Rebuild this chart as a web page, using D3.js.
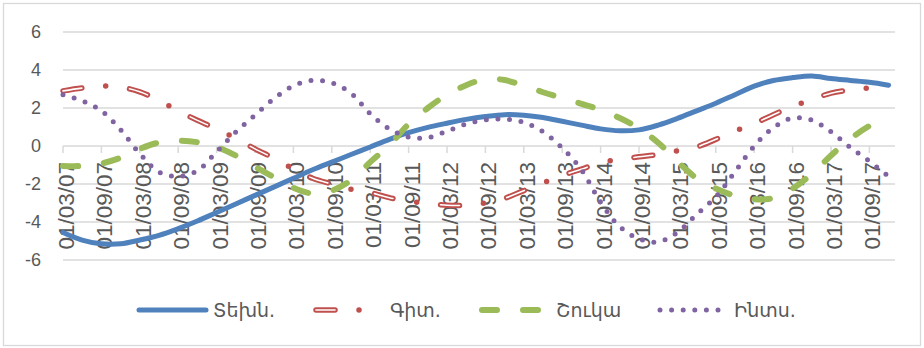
<!DOCTYPE html>
<html>
<head>
<meta charset="utf-8">
<script src="https://cdn.jsdelivr.net/npm/d3@7"></script>
<style>
  body { margin: 0; background: #fff; }
  svg text { font-family: "Liberation Sans", Arial, sans-serif; fill: #595959; }
  svg text.legend-label { font-family: "DejaVu Sans", sans-serif; }
</style>
</head>
<body>
<svg id="chart" width="924" height="348"></svg>
<script>
// Quarterly observations
const quarters = [
  "2007-03","2007-06","2007-09","2007-12","2008-03","2008-06","2008-09","2008-12",
  "2009-03","2009-06","2009-09","2009-12","2010-03","2010-06","2010-09","2010-12",
  "2011-03","2011-06","2011-09","2011-12","2012-03","2012-06","2012-09","2012-12",
  "2013-03","2013-06","2013-09","2013-12","2014-03","2014-06","2014-09","2014-12",
  "2015-03","2015-06","2015-09","2015-12","2016-03","2016-06","2016-09","2016-12",
  "2017-03","2017-06","2017-09","2017-12"
];
const axisStart = "2007-03";
const axisEnd = "2018-01";

const tekhn = [
  -4.55, -4.95, -5.15, -5.15, -4.95, -4.7, -4.35, -3.95, -3.5, -3.05,
  -2.6, -2.15, -1.7, -1.25, -0.85, -0.45, -0.05, 0.35, 0.7, 0.98,
  1.2, 1.4, 1.55, 1.65, 1.62, 1.5, 1.3, 1.1, 0.9, 0.8,
  0.85, 1.1, 1.45, 1.85, 2.25, 2.7, 3.15, 3.45, 3.6, 3.68,
  3.55, 3.45, 3.35, 3.2
];
const git = [
  2.9, 3.05, 3.15, 3.1, 2.85, 2.4, 1.85, 1.35, 0.9, 0.4,
  -0.15, -0.65, -1.2, -1.7, -2.0, -2.28, -2.45, -2.72, -2.9, -3.02,
  -3.12, -3.12, -3.0, -2.75, -2.35, -1.95, -1.55, -1.22, -0.88, -0.7,
  -0.57, -0.45, -0.25, -0.05, 0.35, 0.78, 1.18, 1.65, 2.08, 2.45,
  2.78, 2.95, 3.05, 3.14
];
const shuka = [
  -1.05, -1.05, -0.92, -0.62, -0.15, 0.18, 0.28, 0.2, -0.05, -0.5,
  -1.1, -1.65, -2.2, -2.5, -2.35, -1.8, -0.85, 0.05, 1.15, 2.0,
  2.7, 3.2, 3.52, 3.47, 3.17, 2.83, 2.52, 2.22, 1.9, 1.47,
  0.93, 0.17, -0.8, -1.7, -2.24, -2.62, -2.8, -2.74, -2.24, -1.47,
  -0.5, 0.37, 1.06, 1.57
];
const ints = [
  2.7, 2.38, 1.85, 0.85, -0.4, -1.37, -1.6, -1.3, -0.3, 0.73,
  1.63, 2.5, 3.17, 3.45, 3.32, 2.78, 1.7, 0.9, 0.47, 0.44,
  0.78, 1.16, 1.37, 1.42, 1.25, 0.75, -0.1, -1.25, -2.95, -4.25,
  -4.88, -5.05, -4.55, -3.6, -2.68, -1.35, 0.0, 0.97, 1.47, 1.36,
  0.75, -0.07, -0.8, -1.6
];

const seriesNames = ["Տեխն.", "Գիտ.", "Շուկա", "Ինտս."];
const tickLabels = [
  "01/03/07","01/09/07","01/03/08","01/09/08","01/03/09","01/09/09",
  "01/03/10","01/09/10","01/03/11","01/09/11","01/03/12","01/09/12",
  "01/03/13","01/09/13","01/03/14","01/09/14","01/03/15","01/09/15",
  "01/03/16","01/09/16","01/03/17","01/09/17"
];
const yTicks = [-6, -4, -2, 0, 2, 4, 6];

const svg = d3.select("#chart");
const W = 924, H = 348;
const plot = { left: 63, right: 895, top: 32, bottom: 260 };
const grid = "#d9d9d9";

// outer frame
svg.append("rect")
  .attr("x", 3.5).attr("y", 3.5).attr("width", W - 7).attr("height", H - 6)
  .attr("fill", "none").attr("stroke", grid).attr("stroke-width", 1.3);

const parseQ = d3.timeParse("%Y-%m");
const parseTick = d3.timeParse("%d/%m/%y");
const t0 = parseQ(axisStart);
const monthIndex = d => d3.timeMonth.count(t0, d);

const x = d3.scaleLinear()
  .domain([0, monthIndex(parseQ(axisEnd))])
  .range([plot.left, plot.right]);
const y = d3.scaleLinear().domain([-6, 6]).range([plot.bottom, plot.top]);

// horizontal gridlines
svg.append("g").selectAll("line").data(yTicks).join("line")
  .attr("x1", plot.left).attr("x2", plot.right)
  .attr("y1", d => y(d)).attr("y2", d => y(d))
  .attr("stroke", grid).attr("stroke-width", 1.5);

// y-axis labels
svg.append("g").selectAll("text").data(yTicks).join("text")
  .attr("x", 41).attr("y", d => y(d))
  .attr("dy", "0.36em")
  .attr("text-anchor", "end")
  .attr("font-size", 18)
  .text(d => d);

// category ticks on the zero line
const tickX = tickLabels.map(s => x(monthIndex(parseTick(s))));
svg.append("g").selectAll("line").data(tickX).join("line")
  .attr("x1", d => d).attr("x2", d => d)
  .attr("y1", y(0)).attr("y2", y(0) + 7)
  .attr("stroke", grid).attr("stroke-width", 1.5);

// rotated date labels
svg.append("g").selectAll("text").data(tickLabels).join("text")
  .attr("transform", (d, i) => `translate(${tickX[i] + 11},${y(0) + 16}) rotate(-90)`)
  .attr("text-anchor", "end")
  .attr("font-size", 22.5)
  .text(d => d);

const pts = vals => vals.map((v, i) => [x(monthIndex(parseQ(quarters[i]))), y(v)]);
const line = d3.line().curve(d3.curveCatmullRom.alpha(0.5));

const styles = [
  [{ stroke: "#4F81BD", width: 5, dash: null }],
  [{ stroke: "#C0504D", width: 5.5, dash: "19,24,0,24" },
   { stroke: "#ffffff", width: 1.6, dash: "19,48" }],
  [{ stroke: "#9BBB59", width: 6, dash: "15,26" }],
  [{ stroke: "#8064A2", width: 5, dash: "0,11.6" }]
];
const seriesValues = [tekhn, git, shuka, ints];

const gLines = svg.append("g");
seriesValues.forEach((vals, i) => {
  styles[i].forEach(s => {
    gLines.append("path")
      .attr("d", line(pts(vals)))
      .attr("fill", "none")
      .attr("stroke", s.stroke)
      .attr("stroke-width", s.width)
      .attr("stroke-linecap", "round")
      .attr("stroke-linejoin", "round")
      .attr("stroke-dasharray", s.dash);
  });
});

// legend
const legendY = 310;
const legendStart = [139, 316, 482, 660];
const sampleLen = 67;
const gLeg = svg.append("g");
seriesNames.forEach((name, i) => {
  const x0 = legendStart[i];
  styles[i].forEach(s => {
    gLeg.append("line")
      .attr("x1", x0).attr("x2", x0 + sampleLen)
      .attr("y1", legendY).attr("y2", legendY)
      .attr("stroke", s.stroke)
      .attr("stroke-width", s.width)
      .attr("stroke-linecap", "round")
      .attr("stroke-dasharray", s.dash);
  });
  gLeg.append("text")
    .attr("class", "legend-label")
    .attr("x", x0 + sampleLen + 7)
    .attr("y", legendY)
    .attr("dy", "0.35em")
    .attr("font-size", 19)
    .text(name);
});
</script>
</body>
</html>
